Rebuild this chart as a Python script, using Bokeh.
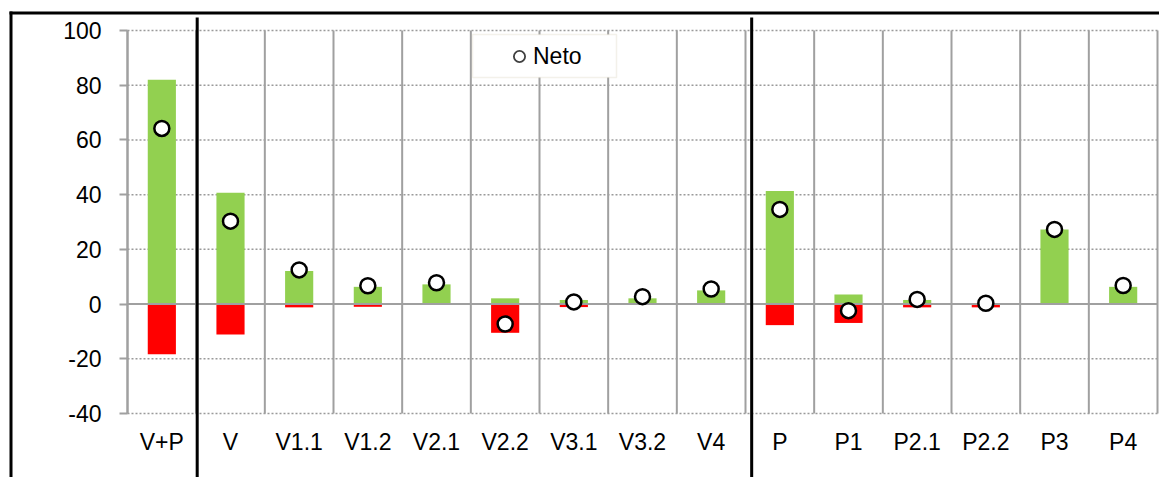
from bokeh.plotting import figure
from bokeh.models import (Range1d, FixedTicker, BoxAnnotation, Legend, LegendItem,
                          ColumnDataSource)
from bokeh.embed import file_html
from bokeh.resources import INLINE

# ---- data ----
categories = ["V+P", "V", "V1.1", "V1.2", "V2.1", "V2.2", "V3.1", "V3.2", "V4",
              "P", "P1", "P2.1", "P2.2", "P3", "P4"]
positive = [82.0, 40.7, 12.1, 6.3, 7.2, 2.1, 1.5, 2.1, 5.0, 41.3, 3.5, 1.5, 0.0, 27.3, 6.3]
negative = [-18.3, -11.1, -1.2, -1.0, 0.0, -10.5, -1.1, 0.0, 0.0, -7.7, -6.9, -1.2, -1.2, 0.0, 0.0]
neto = [64.2, 30.3, 12.5, 6.7, 7.8, -7.3, 0.8, 2.7, 5.5, 34.6, -2.4, 1.7, 0.3, 27.3, 6.8]
y_ticks = [-40, -20, 0, 20, 40, 60, 80, 100]
y_tick_labels = ["-40", "-20", "0", "20", "40", "60", "80", "100"]
legend_label = "Neto"

# group separators (in category units)
dividers = [1.015, 9.09]

# ---- layout (canvas pixels) ----
W, H = 1159, 477
PX_LEFT, PX_RIGHT, PX_TOP, PX_BOTTOM = 127, 1157, 30, 413

n = len(categories)
ymin, ymax = y_ticks[0], y_ticks[-1]
sx = (PX_RIGHT - PX_LEFT) / n
sy = (PX_BOTTOM - PX_TOP) / (ymax - ymin)
x_range = Range1d(0 - PX_LEFT / sx, n + (W - PX_RIGHT) / sx)
y_range = Range1d(ymin - (H - PX_BOTTOM) / sy, ymax + PX_TOP / sy)

xs = [i + 0.5 for i in range(n)]
src = ColumnDataSource(dict(x=xs, pos=positive, neg=negative, neto=neto))

FONT = "Liberation Sans"
FSIZE = "23px"
GRID = "#a0a0a0"

p = figure(width=W, height=H, x_range=x_range, y_range=y_range,
           output_backend="svg", toolbar_location=None,
           min_border_left=0, min_border_right=0, min_border_top=0, min_border_bottom=0)
p.outline_line_color = None
p.background_fill_color = "white"
p.border_fill_color = "white"
p.xgrid.visible = False
p.ygrid.visible = False

# y axis at category 0
p.yaxis.fixed_location = 0
p.yaxis.bounds = (ymin, ymax)
p.yaxis.ticker = FixedTicker(ticks=y_ticks)
p.yaxis.major_label_overrides = {t: s for t, s in zip(y_ticks, y_tick_labels)}
p.yaxis.axis_line_color = GRID
p.yaxis.axis_line_width = 2
p.yaxis.major_tick_line_color = GRID
p.yaxis.major_tick_line_width = 2
p.yaxis.major_tick_out = 8
p.yaxis.major_tick_in = 0
p.yaxis.minor_tick_line_color = None
p.yaxis.major_label_standoff = 18
p.yaxis.major_label_text_font = FONT
p.yaxis.major_label_text_font_size = FSIZE
p.yaxis.major_label_text_color = "#000000"

# x axis at the bottom of the value range
p.xaxis.fixed_location = ymin
p.xaxis.bounds = (0, n)
p.xaxis.ticker = FixedTicker(ticks=xs)
p.xaxis.major_label_overrides = {x: c for x, c in zip(xs, categories)}
p.xaxis.axis_line_color = None
p.xaxis.major_tick_line_color = None
p.xaxis.minor_tick_line_color = None
p.xaxis.major_label_standoff = 9
p.xaxis.major_label_text_font = FONT
p.xaxis.major_label_text_font_size = FSIZE
p.xaxis.major_label_text_color = "#000000"

# grid lines (bounded to the plot area)
p.segment(x0=[0] * len(y_ticks), x1=[n] * len(y_ticks), y0=y_ticks, y1=y_ticks,
          line_color="#9a9a9a", line_width=1.5, line_dash="2 2")
bounds_x = list(range(n + 1))
p.segment(x0=bounds_x, x1=bounds_x, y0=[ymin] * len(bounds_x), y1=[ymax] * len(bounds_x),
          line_color=GRID, line_width=2)

# bars
p.vbar(x="x", top="pos", bottom=0, width=0.41, source=src,
       fill_color="#92D050", line_color=None)
p.vbar(x="x", top=0, bottom="neg", width=0.41, source=src,
       fill_color="#FF0000", line_color=None)

# horizontal axis line at zero
p.segment(x0=[0], x1=[n], y0=[0], y1=[0], line_color=GRID, line_width=2)

# net markers
neto_r = p.scatter(x="x", y="neto", source=src, size=15, marker="circle",
                   fill_color="white", line_color="#000000", line_width=2.5)

# hidden renderer giving the legend its lighter marker
leg_r = p.scatter(x=xs[:1], y=neto[:1], marker="circle", fill_color="white",
                  line_color="#404040", line_width=1.8, visible=False)

def canvas_box(l, r, t, b, **kw):
    return BoxAnnotation(left=l, right=r, top=t, bottom=b,
                         left_units="canvas", right_units="canvas",
                         top_units="canvas", bottom_units="canvas", **kw)

# separators
for d in dividers:
    p.add_layout(BoxAnnotation(left=d - 0.022, right=d + 0.022,
                               left_units="data", right_units="data",
                               top=17, bottom=H, top_units="canvas", bottom_units="canvas",
                               fill_color="black", fill_alpha=1, line_color=None))
# outer frame (top and left edges)
p.add_layout(canvas_box(9, W, 11, 14, fill_color="black", fill_alpha=1, line_color=None))
p.add_layout(canvas_box(9, 12, 11, H, fill_color="black", fill_alpha=1, line_color=None))

# legend box
p.add_layout(canvas_box(472, 616, 34, 77, fill_color="white", fill_alpha=1,
                        line_color="#d6d0b8", line_width=1.5))

legend = Legend(items=[LegendItem(label=legend_label, renderers=[leg_r])],
                location=(505, H - 70), orientation="vertical",
                padding=0, margin=0, spacing=0,
                glyph_width=28, glyph_height=28, label_standoff=0,
                border_line_alpha=0, background_fill_alpha=0,
                inactive_fill_alpha=0,
                label_text_font=FONT, label_text_font_size=FSIZE,
                label_text_color="#000000")
p.add_layout(legend, "center")

open("out.html", "w").write(file_html(p, INLINE))
